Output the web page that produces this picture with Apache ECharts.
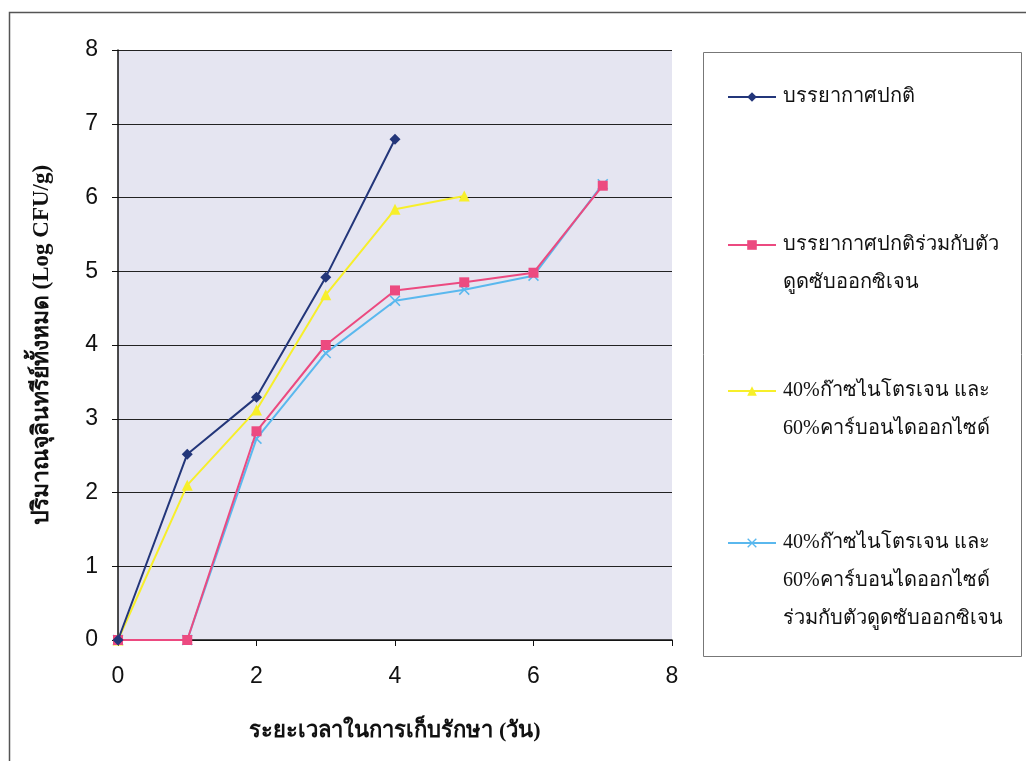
<!DOCTYPE html>
<html>
<head>
<meta charset="utf-8">
<script src="https://cdn.jsdelivr.net/npm/echarts@6/dist/echarts.min.js"></script>
<style>
html,body{margin:0;padding:0;background:#fff;}
#c{width:1026px;height:761px;}
</style>
</head>
<body>
<div id="c"></div>
<script>
// Data
var days = [0, 1, 2, 3, 4, 5, 6, 7];
var seriesNames = [
  'บรรยากาศปกติ',
  'บรรยากาศปกติร่วมกับตัว\nดูดซับออกซิเจน',
  '40%ก๊าซไนโตรเจน และ\n60%คาร์บอนไดออกไซด์',
  '40%ก๊าซไนโตรเจน และ\n60%คาร์บอนไดออกไซด์\nร่วมกับตัวดูดซับออกซิเจน'
];
var normalAir = [0, 2.52, 3.29, 4.92, 6.79];
var normalAirAbsorber = [0, 0, 2.83, 4.0, 4.74, 4.85, 4.98, 6.16];
var mapGas = [0, 2.1, 3.12, 4.68, 5.84, 6.02];
var mapGasAbsorber = [0, 0, 2.73, 3.89, 4.6, 4.75, 4.94, 6.18];
var yTicks = [0, 1, 2, 3, 4, 5, 6, 7, 8];
var xTicks = [0, 2, 4, 6, 8];
var xTitle = 'ระยะเวลาในการเก็บรักษา (วัน)';
var yTitle = 'ปริมาณจุลินทรีย์ทั้งหมด (Log CFU/g)';

function pairs(vals) { return vals.map(function (v, i) { return [days[i], v]; }); }

var FONT = '"Liberation Serif","DejaVu Serif","Noto Sans",serif';
var colors = ['#23367a', '#ec4a80', '#f7ef2a', '#5ab8ee'];
var symbols = ['diamond', 'rect',
  'triangle',
  'path://M0,1L1,0L5,4L9,0L10,1L6,5L10,9L9,10L5,6L1,10L0,9L4,5Z'];
var sizes = [11, 10, 11, 11];
var data = [normalAir, normalAirAbsorber, mapGas, mapGasAbsorber];
var LH = 38;
var legendFirstLine = [97, 245, 391, 543];

function lineCount(s) { return s.split('\n').length; }

var legends = seriesNames.map(function (n, i) {
  var k = lineCount(n);
  var totalLines = 2 * k - 1; // blank lines prepended so icon sits on first line
  var blockH = totalLines * LH;
  return {
    orient: 'vertical',
    left: 727,
    top: legendFirstLine[i] - blockH / 2,
    padding: 0,
    itemWidth: 48,
    itemHeight: 12,
    itemGap: 0,
    data: [n],
    formatter: function (name) {
      var pre = '';
      for (var j = 1; j < lineCount(name); j++) pre += ' \n';
      return pre + name;
    },
    textStyle: { fontFamily: FONT, fontSize: 20, color: '#111', lineHeight: LH, padding: [0, 0, 0, 2] },
    selectedMode: false
  };
});

var series = seriesNames.map(function (n, i) {
  return {
    name: n,
    type: 'line',
    data: pairs(data[i]),
    symbol: symbols[i],
    symbolSize: sizes[i],
    showAllSymbol: true,
    lineStyle: { color: colors[i], width: 2 },
    itemStyle: { color: colors[i] },
    z: 10 - i,
    animation: false
  };
});

var chart = echarts.init(document.getElementById('c'), null, { renderer: 'canvas' });
chart.setOption({
  backgroundColor: '#ffffff',
  animation: false,
  color: colors,
  graphic: [
    { type: 'rect', shape: { x: 9.5, y: 12.5, width: 1030, height: 770 }, style: { fill: 'none', stroke: '#555', lineWidth: 1.5 }, silent: true, z: -10 },
    { type: 'rect', shape: { x: 703.5, y: 52.5, width: 318, height: 604 }, style: { fill: '#fff', stroke: '#777', lineWidth: 1 }, silent: true, z: -5 }
  ],
  legend: legends,
  grid: {
    left: 118, top: 50, width: 554, height: 590,
    show: true, backgroundColor: '#e5e5f1', borderWidth: 0
  },
  xAxis: {
    type: 'value', min: 0, max: 8, interval: 2,
    axisLine: { show: true, lineStyle: { color: '#111', width: 1.5 } },
    axisTick: { show: true, inside: false, length: 6, lineStyle: { color: '#111' } },
    splitLine: { show: false },
    axisLabel: { fontFamily: '"Liberation Sans",Arial,sans-serif', fontSize: 23, color: '#111', margin: 25 },
    name: xTitle, nameLocation: 'middle', nameGap: 80,
    nameTextStyle: { fontFamily: FONT, fontSize: 22, fontWeight: 'bold', color: '#111' }
  },
  yAxis: {
    type: 'value', min: 0, max: 8, interval: 1,
    axisLine: { show: true, lineStyle: { color: '#111', width: 1.5 } },
    axisTick: { show: true, length: 6, lineStyle: { color: '#111' } },
    splitLine: { show: true, lineStyle: { color: '#222', width: 1.2 } },
    axisLabel: { fontFamily: '"Liberation Sans",Arial,sans-serif', fontSize: 23, color: '#111', margin: 20 },
    name: yTitle, nameLocation: 'middle', nameGap: 64, nameRotate: 90,
    nameTextStyle: { fontFamily: FONT, fontSize: 23, fontWeight: 'bold', color: '#111' }
  },
  series: series
});
</script>
</body>
</html>
